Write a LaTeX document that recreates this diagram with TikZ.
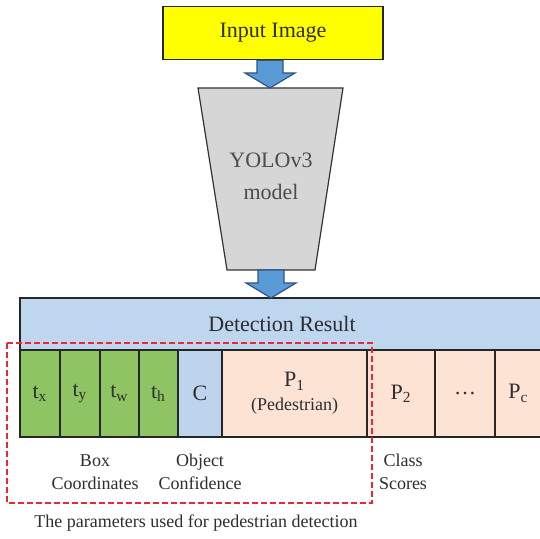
\documentclass[tikz,border=0pt]{standalone}
\usepackage{fontspec}
\setmainfont{Liberation Serif}
\usetikzlibrary{arrows.meta,positioning,calc}
\definecolor{inyellow}{RGB}{255,255,0}
\definecolor{modelgray}{RGB}{214,214,214}
\definecolor{arrowblue}{RGB}{91,155,213}
\definecolor{arrowedge}{RGB}{45,85,135}
\definecolor{barblue}{RGB}{190,214,238}
\definecolor{confblue}{RGB}{189,212,236}
\definecolor{boxgreen}{RGB}{143,196,98}
\definecolor{peach}{RGB}{252,227,212}
\definecolor{dashred}{RGB}{235,40,50}
\definecolor{textdark}{RGB}{45,45,50}
\newcommand{\fatarrow}[2]{%
  \draw[blockarrow] ($(#2 |- #1)+(-13,0)$) -- ($(#2 |- #1)+(13,0)$) -- ($(#2)+(13,-15)$)
    -- ($(#2)+(25,-15)$) -- (#2) -- ($(#2)+(-25,-15)$) -- ($(#2)+(-13,-15)$) -- cycle;}
\begin{document}
\begin{tikzpicture}[x=0.5pt, y=-0.5pt,
  topbox/.style={rectangle, draw=black!85, line width=0.7pt, fill=inyellow,
                 minimum width=110pt, minimum height=26.5pt, text=textdark,
                 font=\fontsize{11}{13}\selectfont},
  modelbox/.style={draw=black!80, line width=0.6pt, fill=modelgray},
  cell/.style={rectangle, draw=black!85, line width=0.8pt, fill=#1,
               minimum height=43.5pt, inner sep=0pt, outer sep=0pt, align=center,
               text=textdark, font=\fontsize{11}{13}\selectfont},
  blockarrow/.style={draw=arrowedge, fill=arrowblue, line width=0.6pt, line join=miter},
  lbl/.style={align=center, text=textdark, font=\fontsize{9}{11.5}\selectfont},
  params/.style={draw=dashred, line width=1pt, dash pattern=on 3pt off 1.5pt}
]
\useasboundingbox (0,0) rectangle (540,539);
\clip (0,0) rectangle (540,539);

% Input and model
\node[topbox] (input) at (273,33) {Input Image};
\draw[modelbox] (198,88) -- (343,88) -- (315,270) -- (227,270) -- cycle;
\coordinate (modeltop) at (270,88);
\coordinate (modelbot) at (271,270);
\node[align=center, text=black!70, font=\fontsize{11}{16}\selectfont] (model) at (271,176) {YOLOv3\\model};

% Detection result bar
\node[rectangle, draw=black!85, line width=0.8pt, fill=barblue, anchor=north west,
      minimum width=262pt, minimum height=26pt, outer sep=0pt, text=textdark,
      font=\fontsize{11}{13}\selectfont] (result) at (20,298) {Detection Result};

% Output cells
\node[cell=boxgreen, minimum width=20pt, anchor=north west] (tx) at (20,350) {t\textsubscript{x}};
\node[cell=boxgreen, minimum width=20pt, right=0pt of tx] (ty) {t\textsubscript{y}};
\node[cell=boxgreen, minimum width=19.5pt, right=0pt of ty] (tw) {t\textsubscript{w}};
\node[cell=boxgreen, minimum width=19.5pt, right=0pt of tw] (th) {t\textsubscript{h}};
\node[cell=confblue, minimum width=22pt, right=0pt of th] (conf) {C};
\node[cell=peach, minimum width=72.5pt, right=0pt of conf] (p1)
  {P\textsubscript{1}\\[-1pt]{\fontsize{9}{11}\selectfont(Pedestrian)}};
\node[cell=peach, minimum width=34pt, right=0pt of p1] (p2) {P\textsubscript{2}};
\node[cell=peach, minimum width=30pt, right=0pt of p2] (pdots) {\dots};
\node[cell=peach, minimum width=23.5pt, right=0pt of pdots] (pc) {P\textsubscript{c}};

% Arrows
\fatarrow{input.south}{modeltop}
\fatarrow{modelbot}{modelbot |- result.north}

% Labels
\node[lbl] (boxlbl) at (95,472) {Box\\Coordinates};
\node[lbl] (conflbl) at (200,472) {Object\\Confidence};
\node[lbl] (classlbl) at (403,472) {Class\\Scores};
\node[lbl] (caption) at (196,523) {The parameters used for pedestrian detection};

% Pedestrian parameters
\draw[params] (7,343) rectangle (372,503);
\end{tikzpicture}
\end{document}
